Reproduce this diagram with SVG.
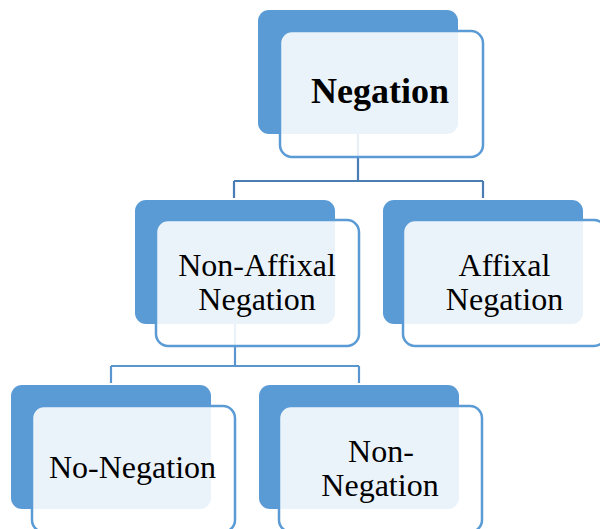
<svg xmlns="http://www.w3.org/2000/svg" width="600" height="529" viewBox="0 0 600 529">
<style>
.back{fill:#5B9BD5;}
.front{fill:#FFFFFF;fill-opacity:0.88;stroke:#5B9BD5;stroke-width:2.5;}
.lbl{font-family:"Liberation Serif","Times New Roman",serif;font-size:32px;fill:#000;text-anchor:middle;}
.title{font-weight:bold;font-size:36px;}
.conn{fill:none;stroke-width:2.2;}
</style>
<rect width="600" height="529" fill="#FFFFFF"/>
<g id="connectors">
<path class="conn" stroke="#4A7DB4" d="M358 134 V181 M234 181 H483 M234 181 V198 M483 181 V198"/>
<path class="conn" stroke="#5B95CF" d="M235 324 V366 M111 366 H359 M111 366 V383 M359 366 V383"/>
</g>
<g id="node-negation">
<rect class="back" x="258" y="10" width="200" height="124" rx="11"/>
<rect class="front" x="280" y="31" width="203" height="126" rx="12"/>
<text class="lbl title" x="380" y="103">Negation</text>
</g>
<g id="node-nonaffixal">
<rect class="back" x="135" y="200" width="200" height="124" rx="11"/>
<rect class="front" x="156" y="220" width="203" height="126" rx="12"/>
<text class="lbl" x="257" y="276">Non-Affixal<tspan x="257" dy="34">Negation</tspan></text>
</g>
<g id="node-affixal">
<rect class="back" x="383" y="200" width="200" height="124" rx="11"/>
<rect class="front" x="403" y="220" width="203" height="126" rx="12"/>
<text class="lbl" x="504.5" y="276">Affixal<tspan x="504.5" dy="34">Negation</tspan></text>
</g>
<g id="node-nonegation">
<rect class="back" x="11" y="385" width="200" height="124" rx="11"/>
<rect class="front" x="32" y="406" width="203" height="126" rx="12"/>
<text class="lbl" x="132.5" y="478">No-Negation</text>
</g>
<g id="node-non-negation">
<rect class="back" x="259" y="385" width="200" height="124" rx="11"/>
<rect class="front" x="279" y="406" width="203" height="126" rx="12"/>
<text class="lbl" x="381" y="462">Non-<tspan x="380" dy="34">Negation</tspan></text>
</g>
</svg>
